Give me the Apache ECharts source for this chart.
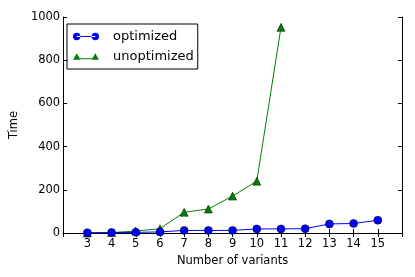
<!DOCTYPE html>
<html><head><meta charset="utf-8">
<script src="https://cdn.jsdelivr.net/npm/echarts@6/dist/echarts.min.js"></script>
<style>html,body{margin:0;padding:0;background:#fff}#c{width:415px;height:277px}</style>
</head><body><div id="c"></div>
<script>
const variants = [3,4,5,6,7,8,9,10,11,12,13,14,15];
const optimized = [1,2,3,5,12,12,12,19,19,20,42,44,59];
const unoptVariants = [3,4,5,6,7,8,9,10,11];
const unoptimized = [0,2,9,20,96,111,171,240,952];
const yTicks = [0,200,400,600,800,1000];

const font = 'DejaVu Sans';
const circIcon = 'path://M0,4a4,4 0 1,0 8,0a4,4 0 1,0 -8,0ZM4,3.5H24V4.5H4ZM20,4a4,4 0 1,0 8,0a4,4 0 1,0 -8,0Z';
const triIcon = 'path://M4,0L8,7H0ZM4,5.5H24V6.5H4ZM24,0L28,7H20Z';
const chart = echarts.init(document.getElementById('c'), null, {renderer:'canvas'});
const axLine = {show:true, lineStyle:{color:'#000', width:1}};
chart.setOption({
  animation:false,
  backgroundColor:'#fff',
  grid:{left:60, right:13, top:17, bottom:44, containLabel:false},
  legend:{
    left:67, top:24, orient:'vertical', itemGap:7, itemWidth:26, itemHeight:8,
    borderColor:'#000', borderWidth:1, borderRadius:0, padding:[6,4,6,6],
    textStyle:{fontFamily:font, fontSize:13, color:'#000', padding:[0,0,0,9]},
    itemStyle:{borderWidth:0},
    data:[
      {name:'optimized', icon:circIcon, itemStyle:{color:'#0000ff', borderWidth:0}},
      {name:'unoptimized', icon:triIcon, itemStyle:{color:'#008000', borderWidth:0}}
    ]
  },
  xAxis:[{
    type:'value', min:2, max:16, interval:1,
    name:'Number of variants', nameLocation:'middle', nameGap:20,
    nameTextStyle:{fontFamily:font, fontSize:11.5, color:'#000'},
    axisLine:axLine, splitLine:{show:false},
    axisTick:{show:true, inside:true, length:4, lineStyle:{color:'#000'}},
    axisLabel:{fontFamily:font, fontSize:11.5, color:'#000', margin:5,
      formatter:v => variants.includes(v) ? String(v) : ''}
  },{
    type:'value', min:2, max:16, interval:1, position:'top',
    axisLine:axLine, splitLine:{show:false},
    axisTick:{show:true, inside:true, length:4, lineStyle:{color:'#000'}},
    axisLabel:{show:false}
  }],
  yAxis:[{
    type:'value', min:0, max:1000, interval:200,
    name:'Time', nameLocation:'middle', nameGap:35, nameRotate:90,
    nameTextStyle:{fontFamily:font, fontSize:11.5, color:'#000'},
    axisLine:axLine, splitLine:{show:false},
    axisTick:{show:true, inside:true, length:4, lineStyle:{color:'#000'}},
    axisLabel:{fontFamily:font, fontSize:11.5, color:'#000', margin:3,
      formatter:v => yTicks.includes(v) ? String(v) : ''}
  },{
    type:'value', min:0, max:1000, interval:200, position:'right',
    axisLine:axLine, splitLine:{show:false},
    axisTick:{show:true, inside:true, length:4, lineStyle:{color:'#000'}},
    axisLabel:{show:false}
  }],
  series:[{
    name:'optimized', type:'line',
    data:variants.map((x,i)=>[x, optimized[i]]),
    symbol:'circle', symbolSize:8,
    lineStyle:{color:'#0000ff', width:1},
    itemStyle:{color:'#0000ff', borderColor:'#000', borderWidth:0.5},
    z:3
  },{
    name:'unoptimized', type:'line',
    data:unoptVariants.map((x,i)=>[x, unoptimized[i]]),
    symbol:'triangle', symbolSize:8,
    lineStyle:{color:'#008000', width:1},
    itemStyle:{color:'#008000', borderColor:'#000', borderWidth:0.5},
    z:2
  }]
});
</script></body></html>
